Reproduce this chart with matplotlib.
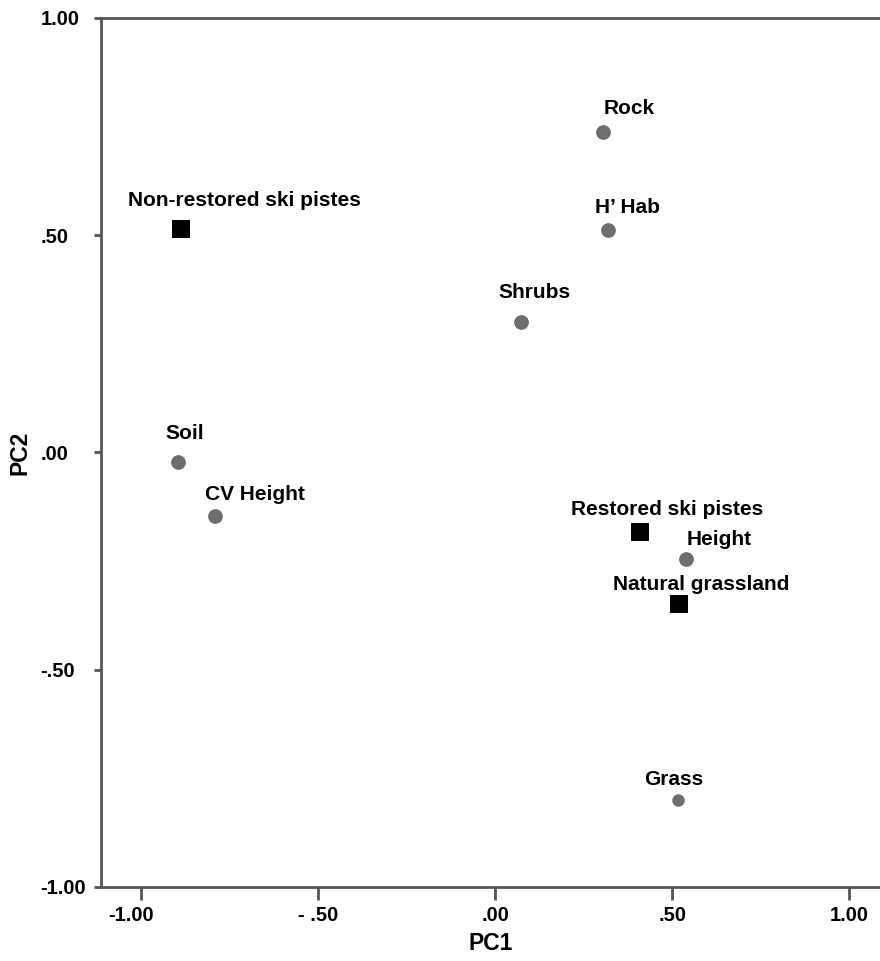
import matplotlib.pyplot as plt
import matplotlib.transforms as mtransforms

plt.rcParams['font.family'] = ['Liberation Sans', 'DejaVu Sans']
plt.rcParams['font.weight'] = 'bold'

# variables (grey circles)
var_names = ['Rock', "H\u2019 Hab", 'Shrubs', 'Soil', 'CV Height', 'Height', 'Grass']
var_pc1 = [0.305, 0.319, 0.074, -0.897, -0.793, 0.540, 0.517]
var_pc2 = [0.737, 0.512, 0.301, -0.023, -0.145, -0.245, -0.800]

# sites (black squares)
site_names = ['Non-restored ski pistes', 'Restored ski pistes', 'Natural grassland']
site_pc1 = [-0.887, 0.410, 0.519]
site_pc2 = [0.514, -0.182, -0.349]

xticks = [-1.0, -0.5, 0.0, 0.5, 1.0]
xticklabels = ['-1.00', '- .50', '.00', '.50', '1.00']
yticks = [-1.0, -0.5, 0.0, 0.5, 1.0]
yticklabels = ['-1.00', '-.50', '.00', '.50', '1.00']

# label placement (pixels from the marker) and marker sizes
var_off = [(26, 18), (19, 17), (13, 24), (7, 23), (40, 16), (33, 14), (-5, 15)]
var_ms = [10.6, 10.6, 10.6, 10.6, 10.6, 10.6, 9]
site_off = [(63, 23), (27, 17), (22, 14)]

fig = plt.figure(figsize=(8.8, 9.61), dpi=100)
ax = fig.add_axes([101 / 880, 74 / 961, 779 / 880, 869 / 961])

for x, y, ms in zip(var_pc1, var_pc2, var_ms):
    ax.plot(x, y, 'o', color='#6e6e6e', markersize=ms, markeredgewidth=0)
ax.plot(site_pc1, site_pc2, 's', color='black', markersize=13, markeredgewidth=0)

for name, x, y, off in zip(var_names, var_pc1, var_pc2, var_off):
    ax.annotate(name, (x, y), xytext=off, textcoords='offset pixels',
                ha='center', va='baseline', fontsize=15, fontweight='bold')
for name, x, y, off in zip(site_names, site_pc1, site_pc2, site_off):
    ax.annotate(name, (x, y), xytext=off, textcoords='offset pixels',
                ha='center', va='baseline', fontsize=15, fontweight='bold')

ax.set_xlim(-1.114, 1.087)
ax.set_ylim(-1.0, 1.0)
ax.set_xticks(xticks)
ax.set_xticklabels(xticklabels)
ax.set_yticks(yticks)
ax.set_yticklabels(yticklabels)
ax.tick_params(axis='x', direction='out', length=9, width=2, color='#555555',
               labelsize=14.5, pad=5)
ax.tick_params(axis='y', direction='out', length=5, width=2, color='#555555',
               labelsize=14.5, pad=38.5)
for lab in ax.get_yticklabels():
    lab.set_horizontalalignment('left')
for lab in ax.get_xticklabels() + ax.get_yticklabels():
    lab.set_fontweight('bold')
# SPSS puts the "-1.00" label a bit left of its tick
shift = mtransforms.ScaledTranslation(-10 / 100, 0, fig.dpi_scale_trans)
lab0 = ax.get_xticklabels()[0]
lab0.set_transform(lab0.get_transform() + shift)

for side in ['left', 'top', 'bottom']:
    ax.spines[side].set_color('#555555')
    ax.spines[side].set_linewidth(2)
ax.spines['right'].set_visible(False)

ax.set_xlabel('PC1', fontsize=16.5, fontweight='bold', labelpad=5)
ax.set_ylabel('PC2', fontsize=16.5, fontweight='bold')
ax.yaxis.set_label_coords(-70 / 779, 0.5)

fig.savefig('out.png', dpi=100)
